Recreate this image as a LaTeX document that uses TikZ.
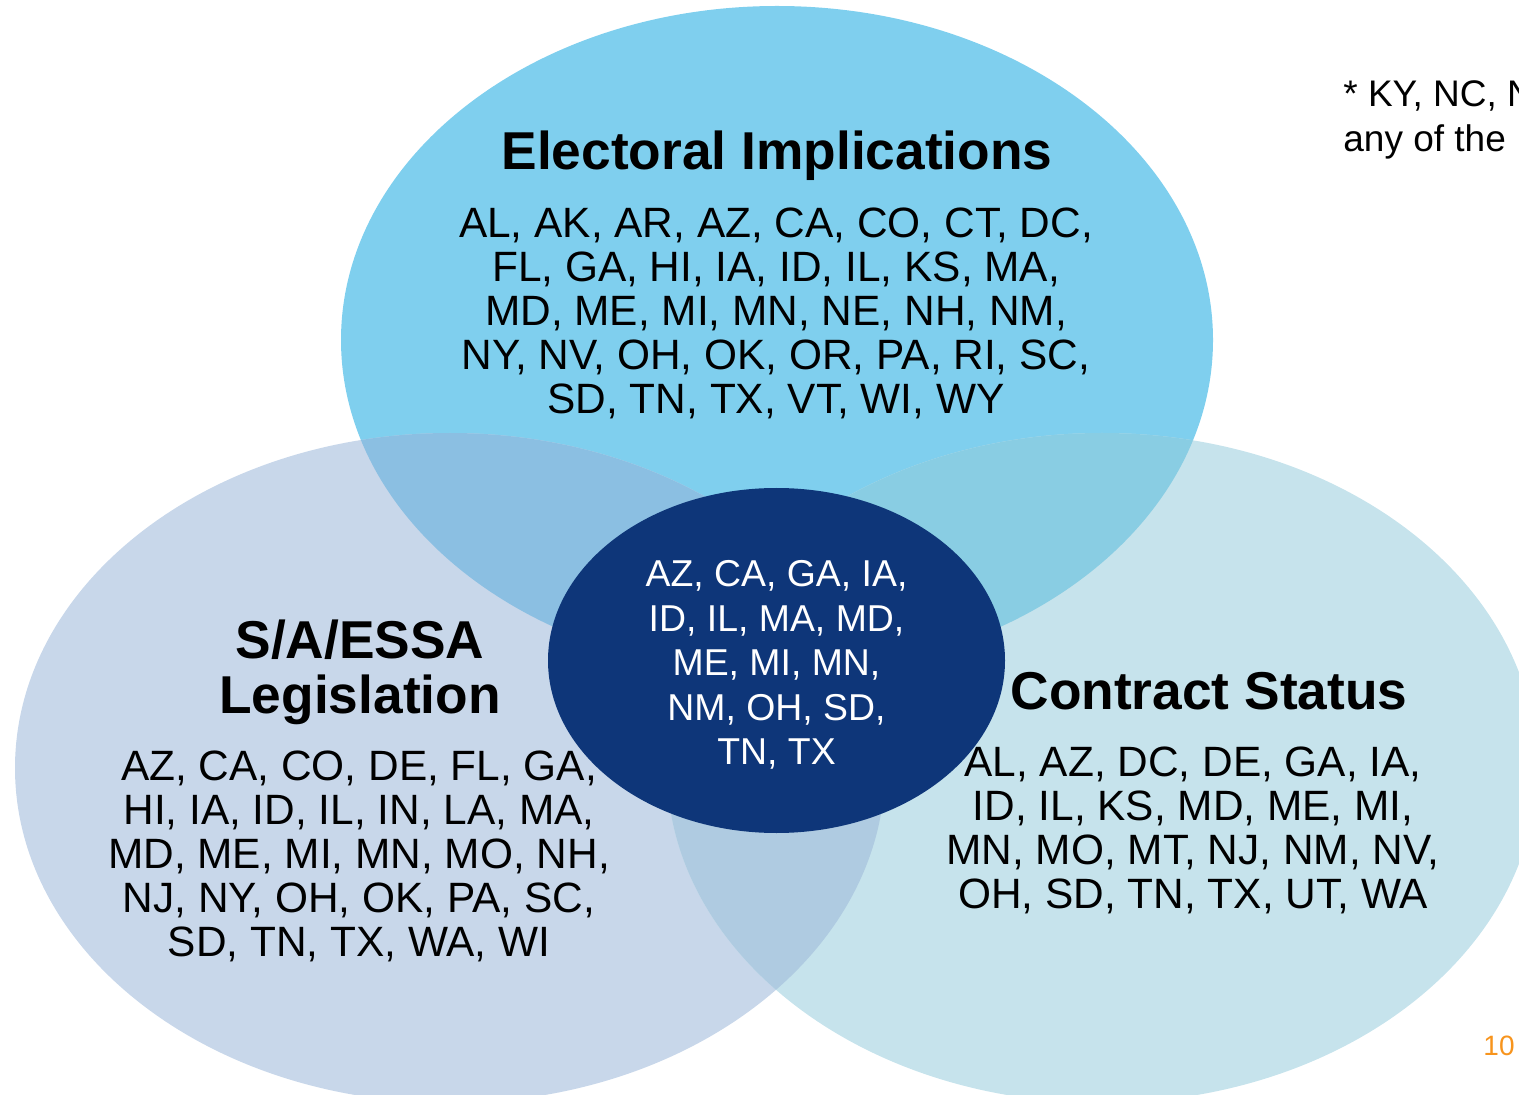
\documentclass[tikz,border=0pt]{standalone}
\usepackage{fontspec}
\setmainfont{Liberation Sans}
\definecolor{cTop}{HTML}{7FCFEE}
\definecolor{cLeft}{HTML}{C8D7EA}
\definecolor{cRight}{HTML}{C6E3EC}
\definecolor{cTL}{HTML}{8BBFE2}
\definecolor{cTR}{HTML}{89CDE3}
\definecolor{cLR}{HTML}{AFCBE1}
\definecolor{cMid}{HTML}{0E3679}
\definecolor{cOrange}{HTML}{F7941D}
\tikzset{
  body/.style={inner sep=0pt, align=center, anchor=north, font=\fontsize{21.2}{22}\selectfont},
  ttl/.style={inner sep=0pt, align=center, font=\fontsize{26.65}{27.5}\selectfont\bfseries},
  midtext/.style={inner sep=0pt, align=center, anchor=north, text=white, font=\fontsize{18.7}{22.25}\selectfont},
}
\begin{document}
\begin{tikzpicture}[x=0.5pt,y=-0.5pt]
\useasboundingbox (0,0) rectangle (1519,1095);
\clip (0,0) rectangle (1519,1095);
\def\topE{(777,340) ellipse [x radius=436, y radius=334]}
\def\leftE{(450,768) ellipse [x radius=435, y radius=335]}
\def\rightE{(1102,768) ellipse [x radius=435, y radius=335]}
\fill[cTop] \topE;
\fill[cLeft] \leftE;
\fill[cRight] \rightE;
\begin{scope}\clip \topE; \fill[cTL] \leftE; \end{scope}
\begin{scope}\clip \topE; \fill[cTR] \rightE; \end{scope}
\begin{scope}\clip \leftE; \fill[cLR] \rightE; \end{scope}
\begin{scope}\clip \topE; \clip \leftE; \fill[cTL] \rightE; \end{scope}
\fill[cMid] (776.5,660.5) ellipse [x radius=228.5, y radius=172.5];

\node[ttl, anchor=base] (toptitle) at (777,170) {Electoral Implications};
\node[body] (topbody) at (776,207) {AL, AK, AR, AZ, CA, CO, CT, DC,\\FL, GA, HI, IA, ID, IL, KS, MA,\\MD, ME, MI, MN, NE, NH, NM,\\NY, NV, OH, OK, OR, PA, RI, SC,\\SD, TN, TX, VT, WI, WY};

\node[ttl, anchor=north] (lefttitle) at (360,619) {S/A/ESSA\\Legislation};
\node[body] (leftbody) at (359,750) {AZ, CA, CO, DE, FL, GA,\\HI, IA, ID, IL, IN, LA, MA,\\MD, ME, MI, MN, MO, NH,\\NJ, NY, OH, OK, PA, SC,\\SD, TN, TX, WA, WI};

\node[ttl, anchor=base] (righttitle) at (1209,709) {Contract Status};
\node[body] (rightbody) at (1193,746) {AL, AZ, DC, DE, GA, IA,\\ID, IL, KS, MD, ME, MI,\\MN, MO, MT, NJ, NM, NV,\\OH, SD, TN, TX, UT, WA};

\node[midtext] (midbody) at (776.5,560) {AZ, CA, GA, IA,\\ID, IL, MA, MD,\\ME, MI, MN,\\NM, OH, SD,\\TN, TX};

\node[inner sep=0pt, align=left, anchor=north west, font=\fontsize{18.5}{22.5}\selectfont] (note) at (1343,80) {* KY, NC, N\\any of the};

\node[inner sep=0pt, anchor=base, text=cOrange, font=\fontsize{14}{16}\selectfont] (pagenum) at (1499,1055) {10};
\end{tikzpicture}
\end{document}
